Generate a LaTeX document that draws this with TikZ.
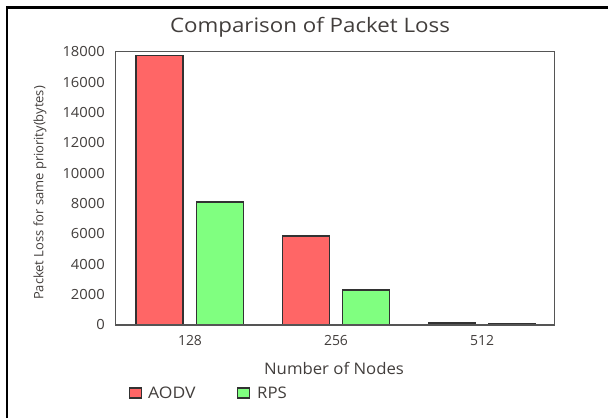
\documentclass[tikz,border=0pt]{standalone}
\usepackage{fontspec}
\setmainfont{Open Sans}
\definecolor{aodv}{RGB}{255,102,102}
\definecolor{rps}{RGB}{128,255,128}
\definecolor{txt}{RGB}{66,62,60}
\definecolor{barline}{RGB}{50,50,50}
\definecolor{frame}{RGB}{85,85,85}
\newcommand{\wx}[2]{\scalebox{#1}[1]{#2}}
\begin{document}
\begin{tikzpicture}[x=1bp,y=-1bp,
  bar/.style={draw=barline,line width=1.3bp},
  tick/.style={anchor=east,text=txt,font=\fontsize{14}{14}\selectfont,inner sep=0pt},
  cat/.style={text=txt,font=\fontsize{14}{14}\selectfont,inner sep=0pt},
  lbl/.style={text=txt,font=\fontsize{16}{16}\selectfont,inner sep=0pt},
  swatch/.style={draw=barline,line width=1.3bp,minimum width=12bp,minimum height=10bp,inner sep=0pt}]
\useasboundingbox (0,0) rectangle (608,418);
\fill[white] (0,0) rectangle (608,418);
% outer border (top and left)
\draw[line width=2.6bp,black] (6.8,418) -- (6.8,7.2) -- (608,7.2);
% title
\node[text=txt,font=\fontsize{20}{20}\selectfont,inner sep=0pt] (title) at (310,27) {\wx{1.12}{Comparison of Packet Loss}};
% bars (heights in thousands)
\def\ybase{325}
\def\sc{15.183}
\foreach \xa/\h/\nm in {136/17.75/a1,282.3/5.86/a2,428.7/0.13/a3}{
  \path[bar,fill=aodv] (\xa,\ybase) rectangle ++(47,-\h*\sc) coordinate (\nm);
}
\foreach \xa/\h/\nm in {196.7/8.1/r1,342.7/2.3/r2,488.7/0.06/r3}{
  \path[bar,fill=rps] (\xa,\ybase) rectangle ++(47,-\h*\sc) coordinate (\nm);
}
% plot frame
\draw[frame,line width=1.4bp] (115.7,51.7) rectangle (554.7,325);
% y ticks
\foreach \v/\t [count=\i] in {0/0,2/2000,4/4000,6/6000,8/8000,10/10000,12/12000,14/14000,16/16000,18/18000}{
  \node[tick] (yt\i) at (105,{325-\v*\sc}) {\wx{1.06}{\t}};
}
% category labels
\node[cat] (c1) at (190,340.7) {128};
\node[cat] (c2) at (336,340.7) {256};
\node[cat] (c3) at (482,340.7) {512};
% axis titles
\node[lbl] (xl) at (334,368.5) {\wx{1.05}{Number of Nodes}};
\node[text=txt,font=\fontsize{13}{13}\selectfont,inner sep=0pt,rotate=90] (yl) at (40,193) {Packet Loss for same priority(bytes)};
% legend
\node[swatch,fill=aodv] (s1) at (135.5,393) {};
\node[lbl,anchor=west] (l1) at (148,393) {\wx{1.1}{AODV}};
\node[swatch,fill=rps] (s2) at (243.5,393) {};
\node[lbl,anchor=west] (l2) at (257,393) {\wx{1.05}{RPS}};
\end{tikzpicture}
\end{document}
